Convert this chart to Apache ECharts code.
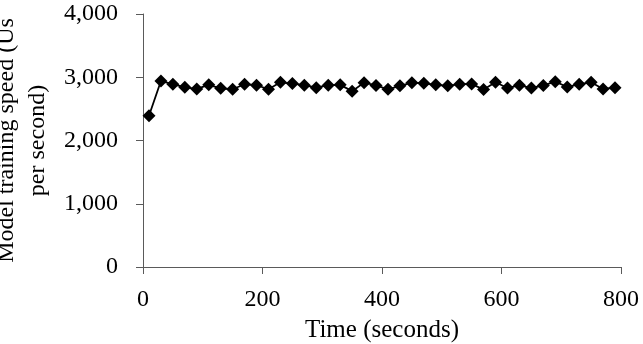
<!DOCTYPE html>
<html>
<head>
<meta charset="utf-8">
<script src="https://cdn.jsdelivr.net/npm/echarts@6/dist/echarts.min.js"></script>
<style>
  html, body { margin: 0; padding: 0; background: #fff; }
  #main { width: 643px; height: 344px; }
</style>
</head>
<body>
<div id="main"></div>
<script>
// time points (seconds) and training speed readings
let times = [10, 30, 50, 70, 90, 110, 130, 150, 170, 190,
             210, 230, 250, 270, 290, 310, 330, 350, 370, 390,
             410, 430, 450, 470, 490, 510, 530, 550, 570, 590,
             610, 630, 650, 670, 690, 710, 730, 750, 770, 790];
let speeds = [2390, 2940, 2890, 2840, 2815, 2880, 2825, 2810, 2890, 2875,
              2810, 2920, 2900, 2875, 2835, 2875, 2880, 2780, 2915, 2870,
              2810, 2865, 2915, 2905, 2880, 2865, 2890, 2895, 2805, 2920,
              2830, 2875, 2830, 2870, 2930, 2845, 2890, 2920, 2815, 2835];
let xTicks = [0, 200, 400, 600, 800];
let yTicks = [0, 1000, 2000, 3000, 4000];

let chart = echarts.init(document.getElementById('main'), null, { renderer: 'canvas' });

const font = '"Liberation Serif", "Times New Roman", serif';
const axisColor = '#5a5a5a';

const option = {
    animation: false,
    grid: {
        left: 143,
        right: 22,
        top: 14,
        bottom: 77,
        outerBoundsMode: 'none'
    },
    xAxis: {
        type: 'value',
        min: xTicks[0],
        max: xTicks[xTicks.length - 1],
        interval: 200,
        name: 'Time (seconds)',
        nameLocation: 'middle',
        nameGap: 51,
        nameTextStyle: { fontFamily: font, fontSize: 25, color: '#000' },
        axisLine: { show: true, lineStyle: { color: axisColor, width: 1 } },
        axisTick: { show: true, length: 7, lineStyle: { color: axisColor } },
        splitLine: { show: false },
        axisLabel: {
            fontFamily: font, fontSize: 24, color: '#000', margin: 21
        }
    },
    yAxis: {
        type: 'value',
        min: yTicks[0],
        max: yTicks[yTicks.length - 1],
        interval: 1000,
        name: 'Model training speed (Us\nper second)',
        nameLocation: 'middle',
        nameRotate: 90,
        nameGap: 84,
        nameTextStyle: { fontFamily: font, fontSize: 24, color: '#000', lineHeight: 31 },
        axisLine: { show: true, lineStyle: { color: axisColor, width: 1 } },
        axisTick: { show: true, length: 7, lineStyle: { color: axisColor } },
        splitLine: { show: false },
        axisLabel: {
            fontFamily: font, fontSize: 24, color: '#000', margin: 25,
            formatter: function (v) { return v.toLocaleString('en-US'); }
        }
    },
    series: [
        {
            type: 'line',
            data: times.map((t, i) => [t, speeds[i]]),
            symbol: 'diamond',
            symbolSize: 13,
            itemStyle: { color: '#000' },
            lineStyle: { color: '#000', width: 1.8 }
        }
    ]
};
chart.setOption(option);
</script>
</body>
</html>
